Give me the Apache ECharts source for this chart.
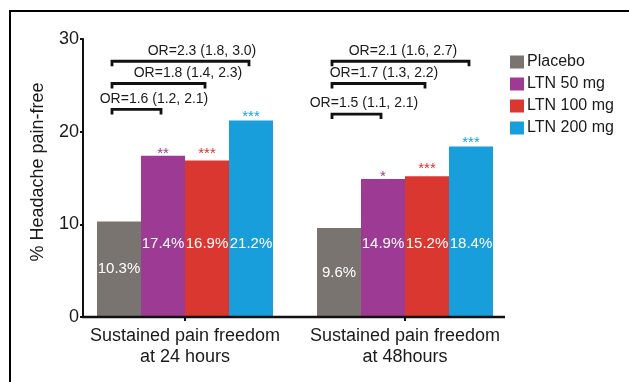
<!DOCTYPE html>
<html>
<head>
<meta charset="utf-8">
<script src="https://cdn.jsdelivr.net/npm/echarts@6/dist/echarts.min.js"></script>
<style>
  html, body { margin: 0; padding: 0; background: #fff; }
  #chart { width: 629px; height: 382px; }
</style>
</head>
<body>
<div id="chart"></div>
<script>
// Sustained pain freedom by treatment arm
const categories = ['Sustained pain freedom\nat 24 hours', 'Sustained pain freedom\nat 48hours'];
const seriesNames = ['Placebo', 'LTN 50 mg', 'LTN 100 mg', 'LTN 200 mg'];
const placebo = [10.3, 9.6];
const ltn50 = [17.4, 14.9];
const ltn100 = [16.9, 15.2];
const ltn200 = [21.2, 18.4];
const stars50 = ['**', '*'];
const stars100 = ['***', '***'];
const stars200 = ['***', '***'];
const orLabels24 = ['OR=1.6 (1.2, 2.1)', 'OR=1.8 (1.4, 2.3)', 'OR=2.3 (1.8, 3.0)'];
const orLabels48 = ['OR=1.5 (1.1, 2.1)', 'OR=1.7 (1.3, 2.2)', 'OR=2.1 (1.6, 2.7)'];
const yTicks = [0, 10, 20, 30];

const FONT = '"Liberation Sans", Arial, Helvetica, sans-serif';
const colors = ['#7a7470', '#9d3a93', '#d9372f', '#189fdb'];
const BAR_W = 44;

// bracket layout: level (in axis units), text x-offset from group centre
const bracketLayout = [
  [{ level: 22.4, textDx: -31 }, { level: 25.2, textDx: 3 }, { level: 27.6, textDx: 17 }],
  [{ level: 21.9, textDx: -41 }, { level: 25.2, textDx: -21 }, { level: 27.6, textDx: -2 }]
];
const starDistance = [0, -6, -1, -4];

const chart = echarts.init(document.getElementById('chart'));

function valueLabel(isPlacebo) {
  return {
    show: true,
    position: isPlacebo ? 'inside' : 'insideBottom',
    distance: isPlacebo ? 0 : 66,
    color: '#fff',
    fontFamily: FONT,
    fontSize: 15,
    formatter: p => p.value.toFixed(1) + '%'
  };
}

function starMarks(values, stars, k) {
  if (!stars) return undefined;
  return {
    symbol: 'circle',
    symbolSize: 1,
    itemStyle: { color: 'rgba(0,0,0,0)' },
    label: {
      show: true,
      position: 'top',
      distance: starDistance[k],
      color: colors[k],
      fontFamily: FONT,
      fontSize: 15,
      formatter: '{b}'
    },
    data: values.map((v, i) => ({ name: stars[i], coord: [i, v] }))
  };
}

const seriesValues = [placebo, ltn50, ltn100, ltn200];
const seriesStars = [null, stars50, stars100, stars200];

chart.setOption({
  animation: false,
  color: colors,
  textStyle: { fontFamily: FONT },
  grid: { left: 75, width: 440, top: 39, bottom: 65, containLabel: false },
  legend: {
    orient: 'vertical',
    left: 510,
    top: 54,
    padding: 0,
    itemWidth: 14,
    itemHeight: 13,
    itemGap: 6,
    icon: 'rect',
    data: seriesNames,
    textStyle: { fontFamily: FONT, fontSize: 16, color: '#1a1a1a', padding: [0, 0, 0, -2] }
  },
  xAxis: {
    type: 'category',
    data: categories,
    axisLine: { show: false },
    axisTick: { show: true, alignWithLabel: true, length: 4, lineStyle: { color: '#111', width: 2 } },
    axisLabel: { interval: 0, color: '#1a1a1a', fontFamily: FONT, fontSize: 18, lineHeight: 21, margin: 9 }
  },
  yAxis: {
    type: 'value',
    min: 0,
    max: 30,
    interval: 10,
    offset: -8,
    name: '% Headache pain-free',
    nameLocation: 'middle',
    nameRotate: 90,
    nameGap: 36,
    nameTextStyle: { fontFamily: FONT, fontSize: 18, color: '#1a1a1a', padding: [0, 0, 0, 12] },
    splitLine: { show: false },
    axisLine: { show: true, lineStyle: { color: '#111', width: 2 } },
    axisTick: { show: true, length: 3, lineStyle: { color: '#111', width: 2 } },
    axisLabel: {
      color: '#1a1a1a', fontFamily: FONT, fontSize: 18, margin: 4,
      formatter: v => (yTicks.includes(v) ? String(v) : '')
    }
  },
  series: seriesValues.map((vals, k) => ({
    name: seriesNames[k],
    type: 'bar',
    data: vals,
    barWidth: BAR_W,
    barGap: '0%',
    label: valueLabel(k === 0),
    markPoint: starMarks(vals, seriesStars[k], k)
  }))
});

// Frame, baseline and odds-ratio brackets laid out on the rendered axes
const y0 = chart.convertToPixel({ yAxisIndex: 0 }, 0);
const xLeft = 83;
const xRight = 505;
const graphics = [
  {
    type: 'rect',
    shape: { x: 10, y: 11, width: 1000, height: 1000 },
    style: { fill: 'none', stroke: '#000', lineWidth: 2 },
    silent: true
  },
  {
    type: 'line',
    shape: { x1: xLeft - 1, y1: y0, x2: xRight, y2: y0 },
    style: { stroke: '#111', lineWidth: 2.5 },
    z: 10
  }
];

[orLabels24, orLabels48].forEach((labels, g) => {
  const cx = chart.convertToPixel({ xAxisIndex: 0 }, g);
  const barCenter = k => cx + (k - 1.5) * BAR_W;
  labels.forEach((txt, j) => {
    const lay = bracketLayout[g][j];
    const y = chart.convertToPixel({ yAxisIndex: 0 }, lay.level);
    const x1 = barCenter(0) - 7;
    const x2 = barCenter(j + 1) - 2;
    graphics.push({
      type: 'polyline',
      shape: { points: [[x1, y + 5], [x1, y], [x2, y], [x2, y + 5]] },
      style: { stroke: '#111', lineWidth: 2.8, fill: 'none' },
      z: 10
    });
    graphics.push({
      type: 'text',
      x: cx + lay.textDx,
      y: y - 10.5,
      style: {
        text: txt,
        fontFamily: FONT,
        fontSize: 14,
        fill: '#1a1a1a',
        align: 'center',
        verticalAlign: 'middle'
      },
      z: 10
    });
  });
});

chart.setOption({ graphic: graphics });
</script>
</body>
</html>
